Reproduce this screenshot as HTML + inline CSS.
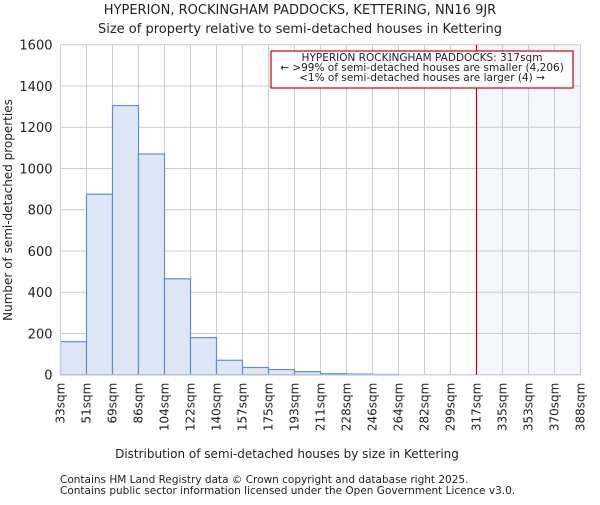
<!DOCTYPE html>
<html><head><meta charset="utf-8"><style>
body{margin:0;background:#fff}
svg text{font-family:"DejaVu Sans","Liberation Sans",sans-serif;fill:#222}
</style></head><body>
<svg id="chart" width="600" height="500">
<text x="300" y="14" text-anchor="middle" font-size="13">HYPERION, ROCKINGHAM PADDOCKS, KETTERING, NN16 9JR</text>
<text x="300" y="33" text-anchor="middle" font-size="13">Size of property relative to semi-detached houses in Kettering</text>
<g id="plot"></g>
<text x="287" y="458" text-anchor="middle" font-size="12">Distribution of semi-detached houses by size in Kettering</text>
<text transform="translate(12,210) rotate(-90)" text-anchor="middle" font-size="12">Number of semi-detached properties</text>
<text x="60" y="483" font-size="10.5">Contains HM Land Registry data © Crown copyright and database right 2025.</text>
<text x="60" y="494" font-size="10.5">Contains public sector information licensed under the Open Government Licence v3.0.</text>
</svg>
<script>
const categories=["33sqm","51sqm","69sqm","86sqm","104sqm","122sqm","140sqm","157sqm","175sqm","193sqm","211sqm","228sqm","246sqm","264sqm","282sqm","299sqm","317sqm","335sqm","353sqm","370sqm","388sqm"];
const counts=[160,875,1305,1070,465,180,70,35,25,15,5,3,1,0,0,0,0,0,0,0];
const yTicks=[0,200,400,600,800,1000,1200,1400,1600];
const markerIndex=16;
const X0=60.5,X1=580.5,Y0=374.7,Y1=44.7,YMAX=1600;
const bw=(X1-X0)/counts.length;
const xs=i=>X0+i*bw, ys=v=>Y0-(v/YMAX)*(Y0-Y1);
const g=document.getElementById('plot');const NS="http://www.w3.org/2000/svg";
function mk(t,a){const e=document.createElementNS(NS,t);for(const k in a)e.setAttribute(k,a[k]);g.appendChild(e);return e;}
let e=mk('rect',{x:xs(markerIndex),y:Y1,width:X1-xs(markerIndex),height:Y0-Y1,fill:'#f3f6fd'});


yTicks.forEach(v=>{
 let l=mk('line',{x1:X0,x2:X1,y1:ys(v),y2:ys(v),stroke:'#ccc','stroke-width':1});
 
 
 let t=mk('text',{x:X0-8,y:ys(v)+5,'text-anchor':'end','font-size':13});t.textContent=v;
 
 
});
categories.forEach((c,i)=>{
 let l=mk('line',{x1:xs(i),x2:xs(i),y1:Y1,y2:Y0,stroke:'#ccc','stroke-width':1});
 
 
 let x=xs(i)+4,y=Y0+8;
 let t=mk('text',{x:x,y:y,'text-anchor':'end','font-size':12,transform:`rotate(-90 ${x} ${y})`});t.textContent=c;
 
 
});
counts.forEach((v,i)=>{ if(v<=0)return;
 let r=mk('rect',{x:xs(i),y:ys(v),width:bw,height:Y0-ys(v),fill:'#dce6f4',stroke:'#5b8fd6','stroke-width':1.2});
 
 
});
let ax=mk('path',{d:`M${X0} ${Y1}V${Y0}H${X1}`,fill:'none',stroke:'#ccc'});


let ml=mk('line',{x1:xs(markerIndex),x2:xs(markerIndex),y1:Y1,y2:Y0,stroke:'#cc0000','stroke-width':1.2});


let bx=mk('rect',{x:271,y:51,width:302,height:37,fill:'#fff',stroke:'#cc0000','stroke-width':1.2});


["HYPERION ROCKINGHAM PADDOCKS: 317sqm","← >99% of semi-detached houses are smaller (4,206)","<1% of semi-detached houses are larger (4) →"].forEach((s,i)=>{
 let t=mk('text',{x:422,y:61+i*10,'text-anchor':'middle','font-size':10.5});t.textContent=s;
 
 
});
</script>
</body></html>
